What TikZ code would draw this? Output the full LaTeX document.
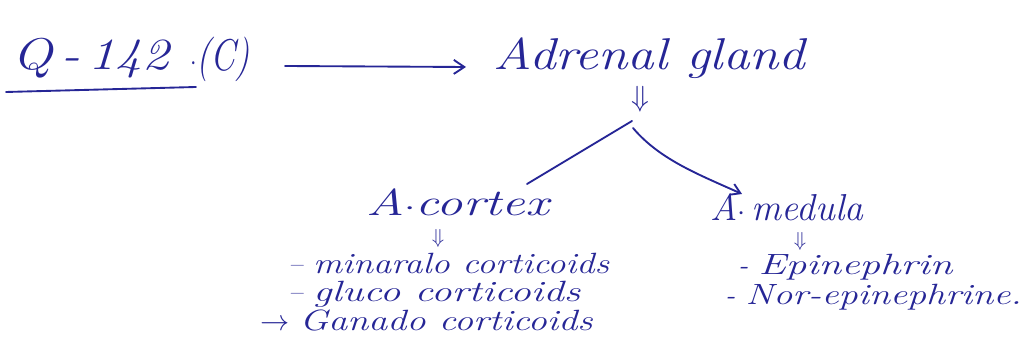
\documentclass[tikz,border=0pt]{standalone}
\usepackage{graphicx}
\usetikzlibrary{arrows.meta}
\definecolor{ink}{RGB}{38,38,150}
\newcommand{\hwide}[2]{\scalebox{#1}[1]{#2}}
\begin{document}
\begin{tikzpicture}[x=0.03cm,y=-0.03cm,
  pen/.style={draw=ink, line width=1.6pt, line cap=round},
  big/.style={text=ink, inner sep=0pt, text height=0.7em, text depth=0.12em, font=\itshape\fontsize{38}{40}\selectfont},
  mid/.style={text=ink, inner sep=0pt, text height=0.7em, text depth=0.1em, font=\itshape\fontsize{32}{34}\selectfont},
  small/.style={text=ink, inner sep=0pt, text height=0.68em, text depth=0.1em, font=\itshape\fontsize{25}{27}\selectfont},
  dn/.style={text=ink, inner sep=0pt, text height=0.6em, text depth=0em, font=\fontsize{26}{28}\selectfont},
  dns/.style={text=ink, inner sep=0pt, text height=0.6em, text depth=0em, font=\fontsize{18}{20}\selectfont}]
\useasboundingbox (0,0) rectangle (1023,348);
% title
\node[big, anchor=west] (q) at (12,66) {\hwide{1.2}{Q\,-\,142}};
\node[big, anchor=west] (c) at (190,67) {\hwide{0.8}{$\cdot$(C)}};
\coordinate (ul1) at (6,92);
\coordinate (ul2) at (196,87);
\draw[pen] (ul1) -- (ul2);
\node[big, anchor=west] (ag) at (493,66) {\hwide{1.19}{Adrenal gland}};
\coordinate (a1) at (285,66);
\coordinate (a2) at (466,67);
\draw[pen, -{Straight Barb[length=9pt,width=12pt]}] (a1) -- (a2);
% down arrow below adrenal gland
\node[dn] (d1) at (640,103) {$\Downarrow$};
\coordinate (br) at (632,121);
\coordinate (brr) at (633,128);
% cortex branch
\node[mid, anchor=west] (cx) at (366,212) {\hwide{1.4}{A$\cdot$cortex}};
\coordinate (cxe) at (527,184);
\draw[pen] (br) -- (cxe);
% medulla branch
\node[mid, anchor=west] (md) at (710,217) {A$\cdot$\,medula};
\coordinate (mdn) at (742,194);
\draw[pen, -{Straight Barb[length=8pt,width=10pt]}] (brr) .. controls (660,160) and (700,175) .. (mdn);
% cortex list
\node[dns] (d2) at (438,240) {$\Downarrow$};
\node[small, anchor=west] (m1) at (288,270) {-- \hwide{1.24}{minaralo corticoids}};
\node[small, anchor=west] (m2) at (288,298) {-- \hwide{1.4}{gluco corticoids}};
\node[small, anchor=west] (m3) at (260,327) {$\rightarrow$ \hwide{1.3}{Ganado corticoids}};
% medulla list
\node[dns] (d3) at (800,243) {$\Downarrow$};
\node[small, anchor=west] (e1) at (738,271) {- \hwide{1.4}{Epinephrin}};
\node[small, anchor=west] (e2) at (725,301) {- \hwide{1.3}{Nor-epinephrine.}};
\end{tikzpicture}
\end{document}
